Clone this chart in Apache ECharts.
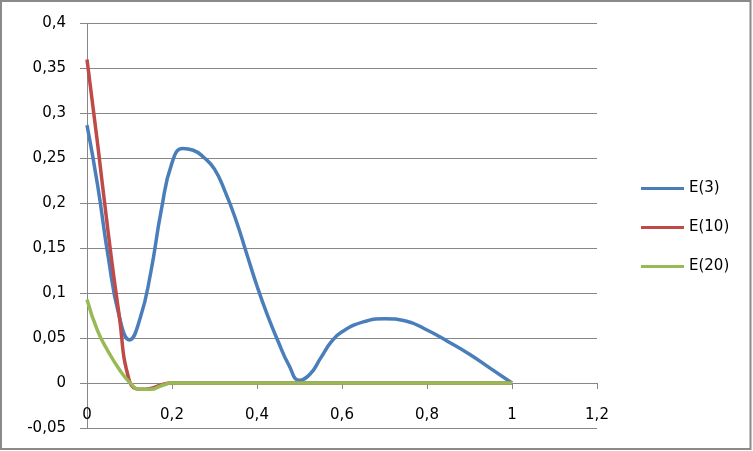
<!DOCTYPE html>
<html>
<head>
<meta charset="utf-8">
<script src="https://cdn.jsdelivr.net/npm/echarts@6/dist/echarts.min.js"></script>
<style>
  html, body { margin: 0; padding: 0; background: #fff; }
  #chart { width: 753px; height: 451px; }
</style>
</head>
<body>
<div id="chart"></div>
<script>
// values (x, y)
const xE3 = [0, 0.025, 0.05, 0.075, 0.1, 0.125, 0.15, 0.175, 0.2, 0.225, 0.25, 0.275, 0.3, 0.325, 0.35, 0.375, 0.4, 0.425, 0.45, 0.475, 0.5, 0.525, 0.55, 0.575, 0.6, 0.65, 0.7, 0.75, 0.8, 0.85, 0.9, 0.95, 1]
const yE3 = [0.287, 0.22, 0.14, 0.076, 0.048, 0.072, 0.123, 0.193, 0.245, 0.261, 0.259, 0.251, 0.238, 0.213, 0.182, 0.145, 0.108, 0.075, 0.046, 0.02, 0.003, 0.01, 0.028, 0.046, 0.057, 0.068, 0.0715, 0.069, 0.059, 0.046, 0.032, 0.016, 0]

const xE10 = [0, 0.025, 0.05, 0.075, 0.1, 0.125, 0.15, 0.175, 0.2, 0.3, 0.4, 0.5, 0.6, 0.7, 0.8, 0.9, 1]
const yE10 = [0.36, 0.266, 0.167, 0.078, 0.002, -0.007, -0.006, -0.002, 0, 0, 0, 0, 0, 0, 0, 0, 0]

const xE20 = [0, 0.025, 0.05, 0.075, 0.1, 0.125, 0.15, 0.175, 0.2, 0.3, 0.4, 0.5, 0.6, 0.7, 0.8, 0.9, 1]
const yE20 = [0.093, 0.058, 0.035, 0.016, 0.001, -0.007, -0.007, -0.003, 0, 0, 0, 0, 0, 0, 0, 0, 0]

const seriesNames = ['E(3)', 'E(10)', 'E(20)']
const seriesColors = ['#4a7ebb', '#be4b48', '#98b954']

const FONT = "'DejaVu Sans', 'Liberation Sans', sans-serif"
const GRID = '#878787'

const pairs = (xs, ys) => xs.map((x, i) => [x, ys[i]])
const fmt = v => String(+Number(v).toFixed(2)).replace('.', ',')

const chart = echarts.init(document.getElementById('chart'))

const xBase = { type: 'value', min: 0, max: 1.2, interval: 0.2, splitLine: { show: false } }

chart.setOption({
    animation: false,
    textStyle: { fontFamily: FONT },
    grid: { left: 87, right: 156, top: 23.5, bottom: 23, containLabel: false, outerBoundsMode: 'none' },
    legend: {
        orient: 'vertical',
        left: 641,
        top: 181,
        padding: 0,
        icon: 'rect',
        itemWidth: 43,
        itemHeight: 3,
        itemGap: 24,
        data: seriesNames,
        textStyle: { fontFamily: FONT, fontSize: 15, lineHeight: 14, color: '#000' }
    },
    xAxis: [
        // axis line + ticks sitting on y = 0
        {
            ...xBase,
            axisLine: { onZero: true, lineStyle: { color: GRID, width: 1 } },
            axisTick: { show: true, length: 6, lineStyle: { color: GRID } },
            axisLabel: { show: false }
        },
        // labels only, just under the zero line
        {
            ...xBase,
            position: 'bottom',
            axisLine: { show: false, onZero: false },
            axisTick: { show: false },
            axisLabel: { margin: -20, fontSize: 15, color: '#000', fontFamily: FONT, formatter: fmt }
        }
    ],
    yAxis: {
        type: 'value',
        min: -0.05,
        max: 0.4,
        interval: 0.05,
        axisLine: { show: true, onZero: true, lineStyle: { color: GRID, width: 1 } },
        axisTick: { show: true, length: 7, lineStyle: { color: GRID } },
        axisLabel: { margin: 21, fontSize: 15, color: '#000', fontFamily: FONT, formatter: fmt },
        splitLine: { show: true, lineStyle: { color: GRID, width: 1 } }
    },
    series: [
        { name: seriesNames[0], data: pairs(xE3, yE3) },
        { name: seriesNames[1], data: pairs(xE10, yE10) },
        { name: seriesNames[2], data: pairs(xE20, yE20) }
    ].map((s, i) => ({
        ...s,
        type: 'line',
        smooth: 0.5,
        symbol: 'none',
        color: seriesColors[i],
        itemStyle: { color: seriesColors[i] },
        lineStyle: { width: 3.5, color: seriesColors[i] }
    })),
    graphic: [{
        type: 'rect',
        shape: { x: 1, y: 1, width: 749.5, height: 448 },
        style: { fill: null, stroke: '#8a8a8a', lineWidth: 2 },
        silent: true
    }]
})
</script>
</body>
</html>
